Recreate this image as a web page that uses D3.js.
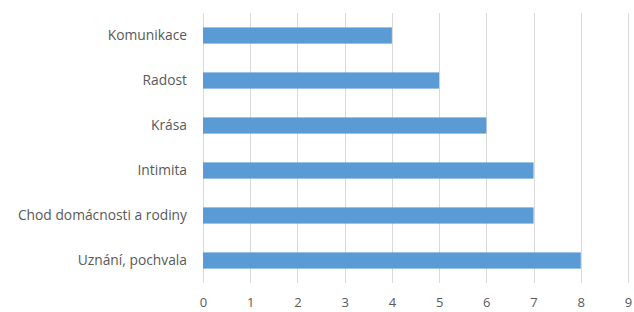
<!DOCTYPE html>
<meta charset="utf-8">
<script src="https://d3js.org/d3.v7.min.js"></script>
<style>
  body { margin: 0; background: #fff; }
  text { font-family: "Open Sans", sans-serif; fill: #595959; }
</style>
<div id="my_dataviz"></div>
<script>

    // categories and values, top to bottom
    var categories = ["Komunikace", "Radost", "Krása", "Intimita", "Chod domácnosti a rodiny", "Uznání, pochvala"];
    var values = [4, 5, 6, 7, 7, 8];
    var xTicks = [0, 1, 2, 3, 4, 5, 6, 7, 8, 9];

    var margin = {top: 13, right: 6, bottom: 29, left: 203},
        width = 634 - margin.left - margin.right,
        height = 312 - margin.top - margin.bottom;

    var svg = d3.select("#my_dataviz")
        .append("svg")
            .attr("width", 634)
            .attr("height", 312)
        .append("g")
            .attr("transform", "translate(" + margin.left + "," + margin.top + ")");

    var data = categories.map(function(c, i) { return [c, values[i]]; });

    // X scale
    var x = d3.scaleLinear()
        .domain([0, 9])
        .range([0, 425]);

    // Y scale
    var y = d3.scaleBand()
        .domain(categories)
        .range([0, height])
        .paddingInner(0.64)
        .paddingOuter(0.32);

    // gridlines
    svg.selectAll("grid")
        .data(xTicks)
        .enter()
        .append("line")
        .attr("x1", function(d) { return Math.round(x(d)) + 0.5; })
        .attr("x2", function(d) { return Math.round(x(d)) + 0.5; })
        .attr("y1", 0)
        .attr("y2", height)
        .attr("stroke", "#d9d9d9")
        .attr("stroke-width", 1);

    // X axis labels
    var xAxis = svg.append("g")
        .attr("transform", "translate(0," + height + ")")
        .call(d3.axisBottom(x).tickValues(xTicks).tickSize(0).tickPadding(15));
    xAxis.select(".domain").remove();
    xAxis.selectAll("text").style("font-size", "13px").attr("fill", "#595959");

    // Y axis labels
    var yAxis = svg.append("g")
        .call(d3.axisLeft(y).tickSize(0).tickPadding(16));
    yAxis.select(".domain").remove();
    yAxis.selectAll("text").style("font-size", "13.8px").attr("fill", "#595959");

    // Bars
    svg.selectAll("mybar")
        .data(data)
        .enter()
        .append("rect")
        .attr("x", x(0))
        .attr("y", function(d) { return y(d[0]); })
        .attr("width", function(d) { return x(d[1]) - x(0); })
        .attr("height", y.bandwidth())
        .attr("fill", "#5b9bd5");

</script>
